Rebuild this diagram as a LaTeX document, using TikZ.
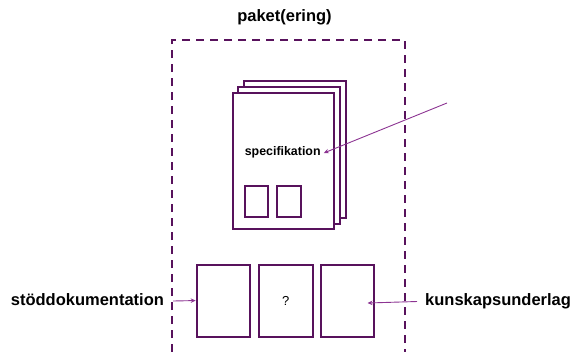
\documentclass[tikz,border=0pt]{standalone}
\usepackage{fontspec}
\setmainfont{Liberation Sans}
\usetikzlibrary{arrows.meta}
\definecolor{dpurple}{RGB}{88,18,92}
\definecolor{lpurple}{RGB}{140,52,146}
\begin{document}
\begin{tikzpicture}[x=1pt,y=-1pt,
  page/.style={draw=dpurple,line width=1.8pt,fill=white,inner sep=0pt},
  lbl/.style={font=\bfseries\fontsize{16.5}{18}\selectfont,inner sep=0pt,text=black},
  ptr/.style={draw=lpurple,line width=0.9pt,-{Stealth[length=5pt,width=4.5pt]}}]
\useasboundingbox (0,0) rectangle (573,351);
% package boundary
\draw[dpurple,line width=2.2pt,dash pattern=on 8pt off 6pt] (172,352) -- (172,40) -- (405,40) -- (405,352);
\node[lbl] (title) at (284.5,17) {paket(ering)};
% stacked specification pages
\node[page,minimum width=102.3pt,minimum height=136.7pt,anchor=north west] (p3) at (242.7,80) {};
\node[page,minimum width=101.7pt,minimum height=136.7pt,anchor=north west] (p2) at (237.3,86) {};
\node[page,minimum width=101.6pt,minimum height=136.3pt,anchor=north west] (p1) at (231.7,92) {};
\node[font=\bfseries\fontsize{12.4}{14}\selectfont,inner sep=0pt] (spec) at (282.7,152) {specifikation};
\node[page,minimum width=23.3pt,minimum height=30.7pt,anchor=north west] (s1) at (244,185) {};
\node[page,minimum width=24pt,minimum height=30.7pt,anchor=north west] (s2) at (276,185) {};
% bottom documents
\node[page,minimum width=53pt,minimum height=71.7pt,anchor=north west] (b1) at (195.7,264.3) {};
\node[page,minimum width=53.7pt,minimum height=71.7pt,anchor=north west,font=\fontsize{13}{15}\selectfont] (b2) at (258,264.3) {?};
\node[page,minimum width=52.7pt,minimum height=71.7pt,anchor=north west] (b3) at (320,264.3) {};
% labels
\node[lbl,anchor=west] (stod) at (10.7,299.5) {stöddokumentation};
\node[lbl,anchor=west] (kun) at (425,301.5) {kunskapsunderlag};
\coordinate (specsrc) at (447,103);
\coordinate (kunend) at (367.5,303);
% pointers
\draw[ptr] (specsrc) -- ([xshift=3pt,yshift=-1pt]spec.east);
\draw[ptr] ([xshift=9pt,yshift=-1.5pt]stod.east) -- ([yshift=0.5pt]b1.west);
\draw[ptr] ([xshift=-8pt]kun.west) -- (kunend);
\end{tikzpicture}
\end{document}
